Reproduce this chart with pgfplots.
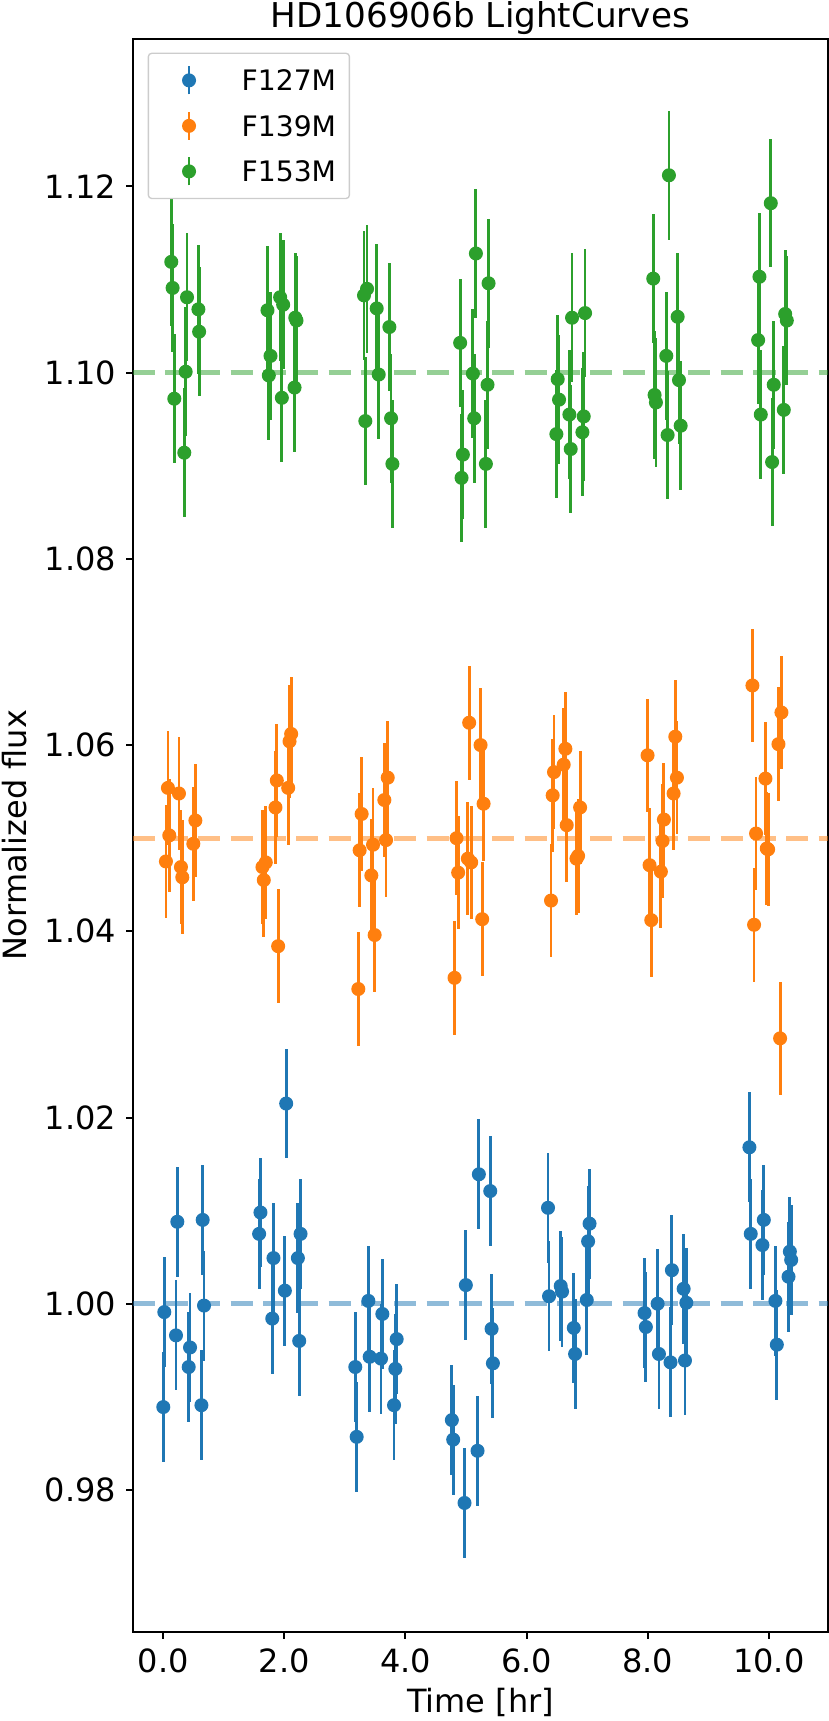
\documentclass[border=0pt]{standalone}
\usepackage{pgfplots}
\usepackage{pgfplotstable}
\pgfplotsset{compat=1.18}
\usepackage{fontspec}
\setmainfont{DejaVu Sans}
\definecolor{tabblue}{HTML}{1F77B4}
\definecolor{taborange}{HTML}{FF7F0E}
\definecolor{tabgreen}{HTML}{2CA02C}
\newcommand{\legfont}{\fontsize{8.46}{10}\selectfont}

\pgfplotstableread{
t f e
0.000 0.9889 0.0059
0.017 0.9991 0.0059
0.210 0.9966 0.0059
0.232 1.0088 0.0059
0.420 0.9932 0.0059
0.442 0.9953 0.0059
0.630 0.9891 0.0059
0.651 1.0090 0.0059
0.673 0.9998 0.0059
1.583 1.0075 0.0059
1.605 1.0098 0.0059
1.800 0.9984 0.0059
1.820 1.0049 0.0059
2.008 1.0014 0.0059
2.030 1.0215 0.0059
2.223 1.0049 0.0059
2.245 0.9960 0.0059
2.267 1.0075 0.0059
3.171 0.9932 0.0059
3.194 0.9857 0.0059
3.387 1.0003 0.0059
3.409 0.9943 0.0059
3.596 0.9941 0.0059
3.618 0.9989 0.0059
3.811 0.9891 0.0059
3.833 0.9930 0.0059
3.855 0.9962 0.0059
4.766 0.9875 0.0059
4.788 0.9854 0.0059
4.975 0.9786 0.0059
4.997 1.0020 0.0059
5.190 0.9842 0.0059
5.212 1.0139 0.0059
5.400 1.0121 0.0059
5.422 0.9973 0.0059
5.444 0.9936 0.0059
6.354 1.0103 0.0059
6.371 1.0008 0.0059
6.564 1.0019 0.0059
6.586 1.0013 0.0059
6.780 0.9974 0.0059
6.801 0.9946 0.0059
6.994 1.0004 0.0059
7.016 1.0067 0.0059
7.040 1.0086 0.0059
7.948 0.9990 0.0059
7.970 0.9975 0.0059
8.164 1.0000 0.0059
8.186 0.9946 0.0059
8.377 0.9937 0.0059
8.400 1.0036 0.0059
8.594 1.0016 0.0059
8.616 0.9939 0.0059
8.638 1.0001 0.0059
9.680 1.0168 0.0059
9.702 1.0075 0.0059
9.895 1.0063 0.0059
9.918 1.0090 0.0059
10.110 1.0003 0.0059
10.133 0.9956 0.0059
10.326 1.0029 0.0059
10.348 1.0056 0.0059
10.370 1.0047 0.0059
}\bluedata

\pgfplotstableread{
t f e
0.044 1.0475 0.0061
0.077 1.0554 0.0061
0.099 1.0503 0.0061
0.259 1.0548 0.0061
0.292 1.0469 0.0061
0.314 1.0458 0.0061
0.496 1.0494 0.0061
0.530 1.0519 0.0061
1.638 1.0469 0.0061
1.660 1.0455 0.0061
1.693 1.0474 0.0061
1.853 1.0533 0.0061
1.875 1.0562 0.0061
1.897 1.0384 0.0061
2.063 1.0554 0.0061
2.085 1.0604 0.0061
2.112 1.0612 0.0061
3.221 1.0338 0.0061
3.243 1.0487 0.0061
3.276 1.0526 0.0061
3.436 1.0460 0.0061
3.464 1.0493 0.0061
3.491 1.0396 0.0061
3.651 1.0541 0.0061
3.679 1.0498 0.0061
3.707 1.0565 0.0061
4.810 1.0350 0.0061
4.843 1.0500 0.0061
4.870 1.0463 0.0061
5.030 1.0478 0.0061
5.052 1.0624 0.0061
5.085 1.0474 0.0061
5.240 1.0600 0.0061
5.267 1.0413 0.0061
5.290 1.0537 0.0061
6.404 1.0433 0.0061
6.431 1.0546 0.0061
6.453 1.0571 0.0061
6.613 1.0579 0.0061
6.641 1.0596 0.0061
6.663 1.0514 0.0061
6.824 1.0478 0.0061
6.851 1.0481 0.0061
6.884 1.0533 0.0061
7.998 1.0589 0.0061
8.031 1.0471 0.0061
8.059 1.0412 0.0061
8.218 1.0464 0.0061
8.246 1.0497 0.0061
8.268 1.0520 0.0061
8.428 1.0548 0.0061
8.456 1.0609 0.0061
8.483 1.0565 0.0061
9.730 1.0664 0.0061
9.757 1.0407 0.0061
9.790 1.0505 0.0061
9.945 1.0564 0.0061
9.967 1.0489 0.0061
9.989 1.0488 0.0061
10.160 1.0601 0.0061
10.187 1.0285 0.0061
10.209 1.0635 0.0061
}\orangedata

\pgfplotstableread{
t f e
0.132 1.1119 0.0069
0.154 1.1091 0.0069
0.182 1.0972 0.0069
0.347 1.0914 0.0069
0.370 1.1001 0.0069
0.392 1.1081 0.0069
0.580 1.1068 0.0069
0.592 1.1044 0.0069
1.721 1.1067 0.0069
1.743 1.0997 0.0069
1.771 1.1018 0.0069
1.930 1.1081 0.0069
1.958 1.0973 0.0069
1.980 1.1073 0.0069
2.168 1.0984 0.0069
2.180 1.1059 0.0069
2.200 1.1056 0.0069
3.315 1.1083 0.0069
3.337 1.0948 0.0069
3.365 1.1090 0.0069
3.525 1.1069 0.0069
3.558 1.0998 0.0069
3.734 1.1049 0.0069
3.762 1.0951 0.0069
3.784 1.0902 0.0069
4.903 1.1032 0.0069
4.926 1.0887 0.0069
4.948 1.0912 0.0069
5.113 1.0999 0.0069
5.135 1.0951 0.0069
5.163 1.1128 0.0069
5.328 1.0902 0.0069
5.355 1.0987 0.0069
5.372 1.1096 0.0069
6.492 1.0934 0.0069
6.514 1.0993 0.0069
6.536 1.0971 0.0069
6.707 1.0955 0.0069
6.729 1.0918 0.0069
6.751 1.1059 0.0069
6.922 1.0936 0.0069
6.944 1.0953 0.0069
6.966 1.1064 0.0069
8.092 1.1101 0.0069
8.114 1.0976 0.0069
8.136 1.0968 0.0069
8.307 1.1018 0.0069
8.329 1.0933 0.0069
8.351 1.1212 0.0069
8.495 1.1060 0.0069
8.517 1.0992 0.0069
8.545 1.0943 0.0069
9.824 1.1035 0.0069
9.846 1.1103 0.0069
9.868 1.0955 0.0069
10.033 1.1182 0.0069
10.055 1.0904 0.0069
10.082 1.0987 0.0069
10.248 1.0960 0.0069
10.271 1.1063 0.0069
10.298 1.1056 0.0069
}\greendata

\begin{document}
\begin{tikzpicture}
\useasboundingbox (-39.81pt,-26.7pt) rectangle ++(248.7pt,516.3pt);
\begin{axis}[
  at={(0,0)}, anchor=south west,
  scale only axis, width=208.68pt, height=477.9pt,
  xmin=-0.505, xmax=10.983, ymin=0.96474, ymax=1.13584,
  axis line style={line width=0.5pt},
  tick align=outside, tick pos=left, major tick length=2pt,
  every tick/.style={black, line width=0.6pt},
  xtick={0,2,4,6,8,10},
  ytick={0.98,1.00,1.02,1.04,1.06,1.08,1.10,1.12},
  scaled ticks=false,
  /pgf/number format/assume math mode=true,
  x tick label style={/pgf/number format/.cd, fixed, fixed zerofill, precision=1, /tikz/.cd},
  y tick label style={/pgf/number format/.cd, fixed, fixed zerofill, precision=2, /tikz/.cd},
  tick label style={font=\fontsize{9.6}{11}\selectfont},
  xticklabel style={anchor=north, inner sep=0pt, yshift=-2.9pt},
  yticklabel style={anchor=east, inner sep=0pt, xshift=-2.8pt},
  label style={font=\fontsize{9.6}{11}\selectfont},
  xlabel={Time [hr]},
  ylabel={Normalized flux},
  xlabel style={at={(axis description cs:0.5,-0.05064)}, anchor=base},
  ylabel style={at={(axis description cs:-0.1524,0.5)}, anchor=base},
  title={HD106906b LightCurves},
  title style={at={(axis description cs:0.5,1.00732)}, anchor=base, yshift=-6pt, font=\fontsize{10.26}{12}\selectfont},
  legend cell align=left,
  legend style={at={(axis description cs:0.02156,0.99142)}, anchor=north west,
    draw=black!20, line width=0.4pt, rounded corners=1pt, fill=white,
    inner xsep=4pt, inner ysep=3.5pt, row sep=4.4pt, column sep=0pt,
    font=\legfont, nodes={inner sep=0pt, text depth=0pt}},
]
\addplot[forget plot, tabblue, opacity=0.5, line width=1.4pt, dash pattern=on 6.7pt off 3.1pt] coordinates {(-0.505,1.00) (10.983,1.00)};
\addplot[forget plot, taborange, opacity=0.5, line width=1.4pt, dash pattern=on 6.7pt off 3.1pt] coordinates {(-0.505,1.05) (10.983,1.05)};
\addplot[forget plot, tabgreen, opacity=0.5, line width=1.4pt, dash pattern=on 6.7pt off 3.1pt] coordinates {(-0.505,1.10) (10.983,1.10)};

\addplot[only marks, mark=*, color=tabblue, mark size=1.9pt,
  mark options={line width=0.4pt, fill=tabblue, draw=tabblue},
  legend image code/.code={\path[draw=none,fill=none] (0pt,0pt) -- (24pt,0pt); \draw[tabblue, solid, line width=0.85pt] (8.2pt,-4.2pt) -- (8.2pt,4.2pt); \fill[tabblue, draw=none] (8.2pt,0pt) circle (2.1pt);},
  error bars/.cd, y dir=both, y explicit, error mark=none,
  error bar style={line width=0.85pt, tabblue}]
  table[x=t, y=f, y error=e] {\bluedata};
\addlegendentry{\legfont F127M}
\addplot[only marks, mark=*, color=taborange, mark size=1.9pt,
  mark options={line width=0.4pt, fill=taborange, draw=taborange},
  legend image code/.code={\path[draw=none,fill=none] (0pt,0pt) -- (24pt,0pt); \draw[taborange, solid, line width=0.85pt] (8.2pt,-4.2pt) -- (8.2pt,4.2pt); \fill[taborange, draw=none] (8.2pt,0pt) circle (2.1pt);},
  error bars/.cd, y dir=both, y explicit, error mark=none,
  error bar style={line width=0.85pt, taborange}]
  table[x=t, y=f, y error=e] {\orangedata};
\addlegendentry{\legfont F139M}
\addplot[only marks, mark=*, color=tabgreen, mark size=1.9pt,
  mark options={line width=0.4pt, fill=tabgreen, draw=tabgreen},
  legend image code/.code={\path[draw=none,fill=none] (0pt,0pt) -- (24pt,0pt); \draw[tabgreen, solid, line width=0.85pt] (8.2pt,-4.2pt) -- (8.2pt,4.2pt); \fill[tabgreen, draw=none] (8.2pt,0pt) circle (2.1pt);},
  error bars/.cd, y dir=both, y explicit, error mark=none,
  error bar style={line width=0.85pt, tabgreen}]
  table[x=t, y=f, y error=e] {\greendata};
\addlegendentry{\legfont F153M}
\end{axis}
\end{tikzpicture}
\end{document}
